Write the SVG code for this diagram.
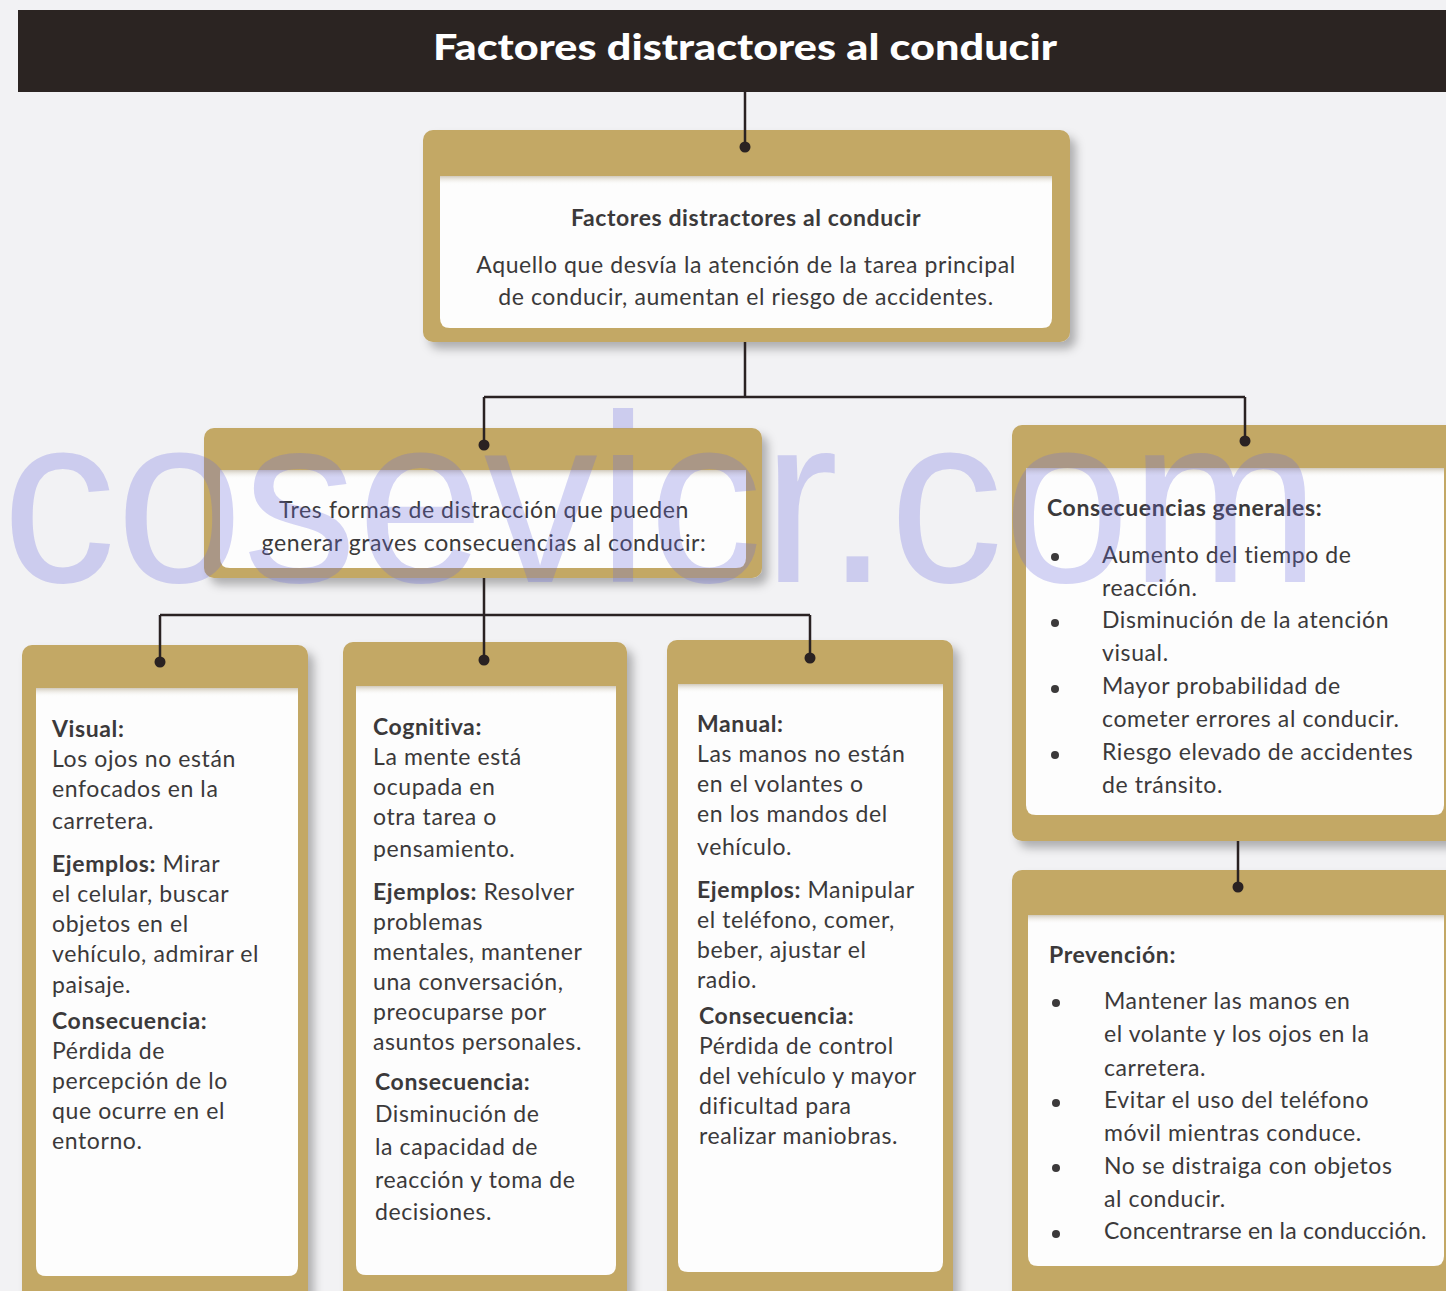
<svg xmlns="http://www.w3.org/2000/svg" width="1446" height="1291" viewBox="0 0 1446 1291">
<defs>
<style>
.t{font-family:Lato,"Noto Sans","Liberation Sans",sans-serif;font-size:23px;letter-spacing:0.6px;fill:#3b393a}
.b{font-weight:700}
.c{text-anchor:middle}
.gold{fill:#c3a865}
.panel{fill:#fdfdfd}
.line{stroke:#2a2222;stroke-width:2.5;fill:none}
.dot{fill:#2a2222}
.bul{fill:#3b393a}
.sh{fill:url(#topShade)}
</style>
<linearGradient id="topShade" x1="0" y1="0" x2="0" y2="1">
<stop offset="0" stop-color="#9a8a6a" stop-opacity="0.45"/>
<stop offset="1" stop-color="#ffffff" stop-opacity="0"/>
</linearGradient>
<filter id="ds" x="-10%" y="-10%" width="130%" height="130%">
<feDropShadow dx="6" dy="7" stdDeviation="5" flood-color="#000" flood-opacity="0.28"/>
</filter>
</defs>
<rect x="0" y="0" width="1446" height="1291" fill="#f2f2f4"/>

<g id="title">
<rect x="18" y="10" width="1440" height="82" fill="#2b2422"/>
<text x="745" y="60" font-family="Lato,'Noto Sans',sans-serif" font-size="36" font-weight="900" fill="#ffffff" text-anchor="middle" textLength="624" lengthAdjust="spacingAndGlyphs">Factores distractores al conducir</text>
</g>

<g id="node-main">
<rect class="gold" x="423" y="130" width="647" height="212" rx="10" filter="url(#ds)"/>
<path class="panel" d="M440,176 H1052 V318 Q1052,328 1042,328 H450 Q440,328 440,318 Z"/>
<rect class="sh" x="440" y="176" width="612" height="9"/>
<text class="t b c" x="746" y="226">Factores distractores al conducir</text>
<text class="t c" x="746" y="273">Aquello que desvía la atención de la tarea principal</text>
<text class="t c" x="746" y="305">de conducir, aumentan el riesgo de accidentes.</text>
</g>

<g id="node-tres">
<rect class="gold" x="204" y="428" width="558" height="150" rx="10" filter="url(#ds)"/>
<path class="panel" d="M220,470 H746 V558 Q746,568 736,568 H230 Q220,568 220,558 Z"/>
<rect class="sh" x="220" y="470" width="526" height="9"/>
<text class="t c" x="484" y="518">Tres formas de distracción que pueden</text>
<text class="t c" x="484" y="551">generar graves consecuencias al conducir:</text>
</g>

<g id="node-consecuencias">
<rect class="gold" x="1012" y="425" width="460" height="416" rx="10" filter="url(#ds)"/>
<path class="panel" d="M1026,468 H1444 V805 Q1444,815 1434,815 H1036 Q1026,815 1026,805 Z"/>
<rect class="sh" x="1026" y="468" width="418" height="9"/>
<text class="t b" x="1047" y="516">Consecuencias generales:</text>
<circle class="bul" cx="1055" cy="557" r="4"/>
<text class="t" x="1102" y="563">Aumento del tiempo de</text>
<text class="t" x="1102" y="596">reacción.</text>
<circle class="bul" cx="1055" cy="623" r="4"/>
<text class="t" x="1102" y="628">Disminución de la atención</text>
<text class="t" x="1102" y="661">visual.</text>
<circle class="bul" cx="1055" cy="689" r="4"/>
<text class="t" x="1102" y="694">Mayor probabilidad de</text>
<text class="t" x="1102" y="727">cometer errores al conducir.</text>
<circle class="bul" cx="1055" cy="755" r="4"/>
<text class="t" x="1102" y="760">Riesgo elevado de accidentes</text>
<text class="t" x="1102" y="793">de tránsito.</text>
</g>

<g id="node-prevencion">
<rect class="gold" x="1012" y="870" width="460" height="440" rx="10" filter="url(#ds)"/>
<path class="panel" d="M1028,915 H1444 V1256 Q1444,1266 1434,1266 H1038 Q1028,1266 1028,1256 Z"/>
<rect class="sh" x="1028" y="915" width="416" height="9"/>
<text class="t b" x="1049" y="963">Prevención:</text>
<circle class="bul" cx="1056" cy="1003" r="4"/>
<text class="t" x="1104" y="1009">Mantener las manos en</text>
<text class="t" x="1104" y="1042">el volante y los ojos en la</text>
<text class="t" x="1104" y="1076">carretera.</text>
<circle class="bul" cx="1056" cy="1103" r="4"/>
<text class="t" x="1104" y="1108">Evitar el uso del teléfono</text>
<text class="t" x="1104" y="1141">móvil mientras conduce.</text>
<circle class="bul" cx="1056" cy="1168" r="4"/>
<text class="t" x="1104" y="1174">No se distraiga con objetos</text>
<text class="t" x="1104" y="1207">al conducir.</text>
<circle class="bul" cx="1056" cy="1234" r="4"/>
<text class="t" x="1104" y="1239" textLength="323">Concentrarse en la conducción.</text>
</g>

<g id="node-visual">
<rect class="gold" x="22" y="645" width="286" height="670" rx="10" filter="url(#ds)"/>
<path class="panel" d="M36,688 H298 V1266 Q298,1276 288,1276 H46 Q36,1276 36,1266 Z"/>
<rect class="sh" x="36" y="688" width="262" height="9"/>
<text class="t b" x="52" y="737">Visual:</text>
<text class="t" x="52" y="767">Los ojos no están</text>
<text class="t" x="52" y="797">enfocados en la</text>
<text class="t" x="52" y="829">carretera.</text>
<text class="t" x="52" y="872"><tspan class="b">Ejemplos:</tspan> Mirar</text>
<text class="t" x="52" y="902">el celular, buscar</text>
<text class="t" x="52" y="932">objetos en el</text>
<text class="t" x="52" y="962">vehículo, admirar el</text>
<text class="t" x="52" y="993">paisaje.</text>
<text class="t b" x="52" y="1029">Consecuencia:</text>
<text class="t" x="52" y="1059">Pérdida de</text>
<text class="t" x="52" y="1089">percepción de lo</text>
<text class="t" x="52" y="1119">que ocurre en el</text>
<text class="t" x="52" y="1149">entorno.</text>
</g>

<g id="node-cognitiva">
<rect class="gold" x="343" y="642" width="284" height="670" rx="10" filter="url(#ds)"/>
<path class="panel" d="M356,686 H616 V1265 Q616,1275 606,1275 H366 Q356,1275 356,1265 Z"/>
<rect class="sh" x="356" y="686" width="260" height="9"/>
<text class="t b" x="373" y="735">Cognitiva:</text>
<text class="t" x="373" y="765">La mente está</text>
<text class="t" x="373" y="795">ocupada en</text>
<text class="t" x="373" y="825">otra tarea o</text>
<text class="t" x="373" y="857">pensamiento.</text>
<text class="t" x="373" y="900"><tspan class="b">Ejemplos:</tspan> Resolver</text>
<text class="t" x="373" y="930">problemas</text>
<text class="t" x="373" y="960">mentales, mantener</text>
<text class="t" x="373" y="990">una conversación,</text>
<text class="t" x="373" y="1020">preocuparse por</text>
<text class="t" x="373" y="1050">asuntos personales.</text>
<text class="t b" x="375" y="1090">Consecuencia:</text>
<text class="t" x="375" y="1122">Disminución de</text>
<text class="t" x="375" y="1155">la capacidad de</text>
<text class="t" x="375" y="1188">reacción y toma de</text>
<text class="t" x="375" y="1220">decisiones.</text>
</g>

<g id="node-manual">
<rect class="gold" x="667" y="640" width="286" height="670" rx="10" filter="url(#ds)"/>
<path class="panel" d="M678,684 H943 V1262 Q943,1272 933,1272 H688 Q678,1272 678,1262 Z"/>
<rect class="sh" x="678" y="684" width="265" height="9"/>
<text class="t b" x="697" y="732">Manual:</text>
<text class="t" x="697" y="762">Las manos no están</text>
<text class="t" x="697" y="792">en el volantes o</text>
<text class="t" x="697" y="822">en los mandos del</text>
<text class="t" x="697" y="855">vehículo.</text>
<text class="t" x="697" y="898"><tspan class="b">Ejemplos:</tspan> Manipular</text>
<text class="t" x="697" y="928">el teléfono, comer,</text>
<text class="t" x="697" y="958">beber, ajustar el</text>
<text class="t" x="697" y="988">radio.</text>
<text class="t b" x="699" y="1024">Consecuencia:</text>
<text class="t" x="699" y="1054">Pérdida de control</text>
<text class="t" x="699" y="1084">del vehículo y mayor</text>
<text class="t" x="699" y="1114">dificultad para</text>
<text class="t" x="699" y="1144">realizar maniobras.</text>
</g>

<g id="connectors">
<path class="line" d="M745,92 V147"/>
<path class="line" d="M745,342 V397 M484,397 H1245 M484,397 V445 M1245,397 V441"/>
<path class="line" d="M484,578 V615 M160,615 H810 M160,615 V662 M484,615 V660 M810,615 V658"/>
<path class="line" d="M1238,841 V887"/>
<circle class="dot" cx="745" cy="147" r="5.5"/>
<circle class="dot" cx="484" cy="445" r="5.5"/>
<circle class="dot" cx="1245" cy="441" r="5.5"/>
<circle class="dot" cx="160" cy="662" r="5.5"/>
<circle class="dot" cx="484" cy="660" r="5.5"/>
<circle class="dot" cx="810" cy="658" r="5.5"/>
<circle class="dot" cx="1238" cy="887" r="5.5"/>
</g>

<text x="2" y="582" font-family="'Liberation Sans',Arial,sans-serif" font-size="240" fill="#6a6ae0" fill-opacity="0.28" textLength="1318" lengthAdjust="spacingAndGlyphs">cosevicr.com</text>
</svg>
